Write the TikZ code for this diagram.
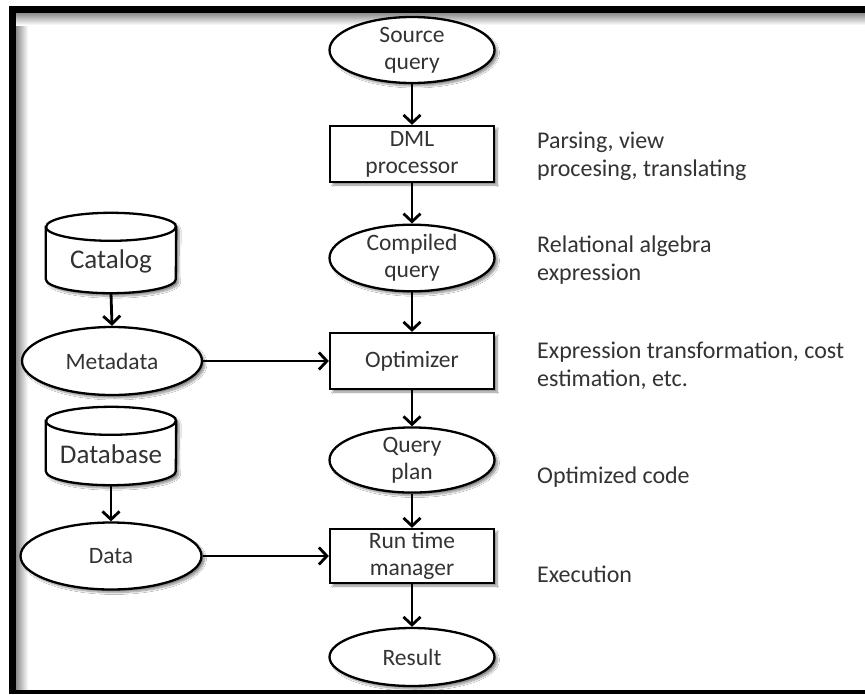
\documentclass[tikz,border=0pt]{standalone}
\usepackage{fontspec}
\setmainfont{Carlito}
\usetikzlibrary{arrows.meta,shapes.geometric,shadows.blur}

\tikzset{
  shade box/.style={blur shadow={shadow xshift=3pt,shadow yshift=-3pt,shadow blur steps=8,shadow opacity=45}},
  flowtext/.style={text=black!80,font=\fontsize{23.5}{27}\selectfont,align=center},
  oval/.style={ellipse,draw=black,line width=2.3pt,fill=white,inner sep=0pt,shade box,flowtext},
  stepbox/.style={rectangle,draw=black,line width=2.3pt,fill=white,inner sep=0pt,
    minimum width=164pt,shade box,flowtext},
  dbslot/.style={rectangle,inner sep=0pt,minimum width=130pt,text=black!80,
    font=\fontsize{27}{30}\selectfont},
  note/.style={anchor=west,align=left,inner sep=0pt,text=black!80,
    font=\fontsize{24}{28}\selectfont},
  flow/.style={line width=2.8pt,-{Straight Barb[length=8pt,width=17pt]}},
}

% cylinder outline drawn around a named slot node
\newcommand{\dbcyl}[1]{%
  \path[fill=white,draw=black,line width=2.3pt,shade box]
    ([yshift=-14pt]#1.north west) -- ([yshift=14pt]#1.south west)
    arc[start angle=180,end angle=360,x radius=65pt,y radius=14pt]
    -- ([yshift=-14pt]#1.north east)
    arc[start angle=0,end angle=180,x radius=65pt,y radius=14pt] -- cycle;
  \draw[line width=2.3pt] ([yshift=-14pt]#1.north west)
    arc[start angle=180,end angle=360,x radius=65pt,y radius=14pt];
}

\begin{document}
\begin{tikzpicture}[x=1pt,y=1pt]
\useasboundingbox (0,0) rectangle (865,-694);
\fill[white] (0,0) rectangle (865,-694);

% frame with its inner shade
\shade[left color=black!45,right color=white] (16,-13) rectangle (28,-690);
\shade[top color=black!45,bottom color=white] (16,-13) rectangle (865,-25);
\fill[black] (9,-6) rectangle (865,-13);
\fill[black] (9,-6) rectangle (16,-694);
\fill[black] (9,-690) rectangle (865,-694);

% main pipeline
\node[oval,minimum width=165pt,minimum height=66pt] (src) at (412,-50) {Source\\query};
\node[stepbox,minimum height=56pt] (dml) at (412,-154) {DML\\processor};
\node[oval,minimum width=165pt,minimum height=66pt] (comp) at (412,-258) {Compiled\\query};
\node[stepbox,minimum height=56pt] (opt) at (412,-361) {Optimizer};
\node[oval,minimum width=165pt,minimum height=58pt] (plan) at (412,-460) {Query\\plan};
\node[stepbox,minimum height=54pt] (rtm) at (412,-556) {Run time\\manager};
\node[oval,minimum width=165pt,minimum height=58pt] (res) at (412,-657) {Result};

% stores on the left
\node[dbslot,minimum height=80pt] (cat) at (111,-253) {};
\dbcyl{cat}
\node[dbslot,minimum height=80pt,yshift=-8pt] (catl) at (111,-253) {Catalog};
\node[oval,minimum width=180pt,minimum height=68pt] (meta) at (112,-361) {Metadata};
\node[dbslot,minimum height=78pt] (db) at (111,-446) {};
\dbcyl{db}
\node[dbslot,minimum height=78pt,yshift=-8pt] (dbl) at (111,-446) {Database};
\node[oval,minimum width=181pt,minimum height=67pt] (data) at (111,-556) {Data};

% connectors
\draw[flow] (src) -- (dml);
\draw[flow] (dml) -- (comp);
\draw[flow] (comp) -- (opt);
\draw[flow] (opt) -- (plan);
\draw[flow] (plan) -- (rtm);
\draw[flow] (rtm) -- (res);
\draw[flow] (cat.south) -- (meta.north);
\draw[flow] (db.south) -- (data.north);
\draw[flow] (meta.east) -- (opt.west);
\draw[flow] (data.east) -- (rtm.west);

% stage notes
\node[note] (n1) at (537,-156) {Parsing, view\\procesing, translating};
\node[note] (n2) at (537,-260) {Relational algebra\\expression};
\node[note] (n3) at (537,-366) {Expression transformation, cost\\estimation, etc.};
\node[note] (n4) at (537,-477) {Optimized code};
\node[note] (n5) at (537,-574) {Execution};
\end{tikzpicture}
\end{document}
